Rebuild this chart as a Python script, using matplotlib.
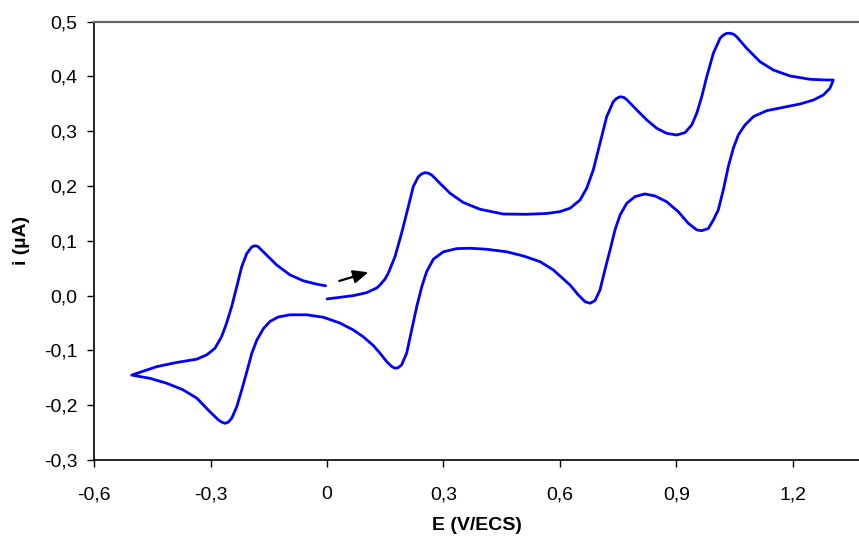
import matplotlib
matplotlib.use("Agg")
import matplotlib.pyplot as plt

# Forward scan: 0 V -> 1.3 V
E_fwd1 = [0.0, 0.033, 0.0675, 0.102, 0.128, 0.1363, 0.149, 0.1577, 0.175, 0.192, 0.2093, 0.222,
          0.235, 0.2435, 0.2523, 0.261, 0.270, 0.291, 0.3167, 0.351, 0.394, 0.454, 0.514, 0.566,
          0.600, 0.626, 0.652, 0.669, 0.686, 0.7033, 0.7206, 0.7376, 0.746, 0.755, 0.764, 0.772,
          0.798, 0.824,
          0.8495, 0.875, 0.901, 0.9224, 0.9397, 0.9526, 0.9655, 0.9784, 0.9954, 1.0127, 1.022, 1.030,
          1.040, 1.048, 1.0557, 1.0814, 1.1157, 1.150, 1.193, 1.2446, 1.2876, 1.3047]
i_fwd1 = [-0.006, -0.003, 0.0, 0.0055, 0.014, 0.0195, 0.030, 0.041, 0.0712, 0.114, 0.1624, 0.199,
          0.217, 0.222, 0.2245, 0.2235, 0.220, 0.205, 0.187, 0.170, 0.1577, 0.149, 0.1485, 0.150,
          0.1533, 0.1595, 0.1746, 0.196, 0.2294, 0.278, 0.3267, 0.354, 0.360, 0.363, 0.362, 0.358,
          0.339, 0.3206,
          0.3055, 0.2963, 0.2932, 0.2975, 0.3115, 0.3328, 0.363, 0.3996, 0.4423, 0.4697, 0.476, 0.4788,
          0.4788, 0.477, 0.4726, 0.4514, 0.427, 0.4119, 0.401, 0.3949, 0.3936, 0.3936]

# Reverse scan: 1.3 V -> -0.5 V
E_rev = [1.296, 1.2789, 1.2531, 1.2188, 1.1758, 1.133, 1.0985, 1.077, 1.0598, 1.0469, 1.034,
         1.0211, 1.0082, 0.9954, 0.9825, 0.9655, 0.9526, 0.931, 0.905, 0.875, 0.845, 0.819,
         0.7935, 0.7722, 0.755, 0.742, 0.7293, 0.716, 0.7033, 0.6905, 0.6776, 0.6647, 0.6474,
         0.626, 0.600, 0.583, 0.549, 0.506, 0.463, 0.411, 0.368, 0.334, 0.2995, 0.2737, 0.2566,
         0.244, 0.231, 0.218, 0.205, 0.192, 0.183, 0.175, 0.166, 0.1536, 0.1363, 0.119, 0.093, 0.0675, 0.033,
         -0.0098, -0.053, -0.096, -0.126, -0.147, -0.164, -0.181, -0.194, -0.207, -0.220, -0.233,
         -0.246, -0.255, -0.263, -0.271, -0.280, -0.302, -0.336, -0.371, -0.413, -0.456, -0.5036]
i_rev = [0.3785, 0.3662, 0.357, 0.3498, 0.3437, 0.3376, 0.3267, 0.3115, 0.2932, 0.269, 0.2354,
         0.1929, 0.1564, 0.1380, 0.1225, 0.1186, 0.120, 0.132, 0.1533, 0.1715, 0.182, 0.1856,
         0.1807, 0.1686, 0.147, 0.120, 0.0834, 0.0469, 0.0104, -0.009, -0.0139, -0.011, 0.0013,
         0.0195, 0.036, 0.0469, 0.062, 0.0724, 0.080, 0.0847, 0.0865, 0.0858, 0.080, 0.0664, 0.0438,
         0.0164, -0.020, -0.0626, -0.105, -0.1265, -0.1315, -0.1325, -0.129, -0.1204, -0.105, -0.091,
         -0.075, -0.0626, -0.050,
         -0.0394, -0.035, -0.035, -0.039, -0.047, -0.060, -0.081, -0.105, -0.139, -0.172, -0.203,
         -0.224, -0.231, -0.233, -0.231, -0.227, -0.212, -0.187, -0.172, -0.160, -0.151, -0.145]

# Forward scan again: -0.5 V -> 0 V
E_fwd2 = [-0.439, -0.388, -0.336, -0.310, -0.289, -0.272, -0.259, -0.246, -0.233, -0.220,
          -0.207, -0.194, -0.189, -0.184, -0.178, -0.173, -0.156, -0.130, -0.096, -0.061, -0.027, -0.004]
i_fwd2 = [-0.1296, -0.122, -0.116, -0.108, -0.096, -0.075, -0.050, -0.020, 0.016, 0.053,
          0.077, 0.089, 0.0905, 0.091, 0.0895, 0.086, 0.074, 0.056, 0.038, 0.027, 0.021, 0.018]

E_all = E_fwd1 + E_rev + E_fwd2
i_all = i_fwd1 + i_rev + i_fwd2

x_ticks = [-0.6, -0.3, 0.0, 0.3, 0.6, 0.9, 1.2]
x_labels = ["-0,6", "-0,3", "0", "0,3", "0,6", "0,9", "1,2"]
y_ticks = [-0.3, -0.2, -0.1, 0.0, 0.1, 0.2, 0.3, 0.4, 0.5]
y_labels = ["-0,3", "-0,2", "-0,1", "0,0", "0,1", "0,2", "0,3", "0,4", "0,5"]

arrow_tail = (0.0315, 0.0268)
arrow_head = (0.1062, 0.0427)

plt.rcParams['font.family'] = ['Liberation Sans', 'DejaVu Sans']

fig = plt.figure(figsize=(8.59, 5.36), dpi=100)
ax = fig.add_axes([94.3 / 859, 1 - 460 / 536, 1 - 94.3 / 859, (460 - 21.7) / 536])

ax.plot(E_all, i_all, color='#0000FF', lw=2.0, solid_joinstyle='round', solid_capstyle='round')

ax.annotate("", xy=arrow_head, xytext=arrow_tail,
            arrowprops=dict(arrowstyle='-|>,head_length=0.9,head_width=0.4', color='black', lw=1.6,
                            shrinkA=0, shrinkB=0))

ax.set_xlim(-0.6, -0.6 + (859 - 94.3) / 388)
ax.set_ylim(-0.3, 0.5)
ax.set_xticks(x_ticks)
ax.set_xticklabels(x_labels)
ax.set_yticks(y_ticks)
ax.set_yticklabels(y_labels)
ax.tick_params(axis='both', direction='out', length=5, width=1, labelsize=14, color='black')
ax.tick_params(axis='x', pad=14)
ax.tick_params(axis='y', pad=7)

ax.spines['right'].set_visible(False)
ax.spines['top'].set_color('#666666')
ax.spines['top'].set_linewidth(1.6)
ax.spines['left'].set_linewidth(1.2)
ax.spines['bottom'].set_linewidth(1.2)

ax.set_xlabel("E (V/ECS)", fontsize=14, fontweight='bold', labelpad=10)
ax.set_ylabel("i (µA)", fontsize=14, fontweight='bold', labelpad=10)

fig.savefig("out.png", dpi=100)
